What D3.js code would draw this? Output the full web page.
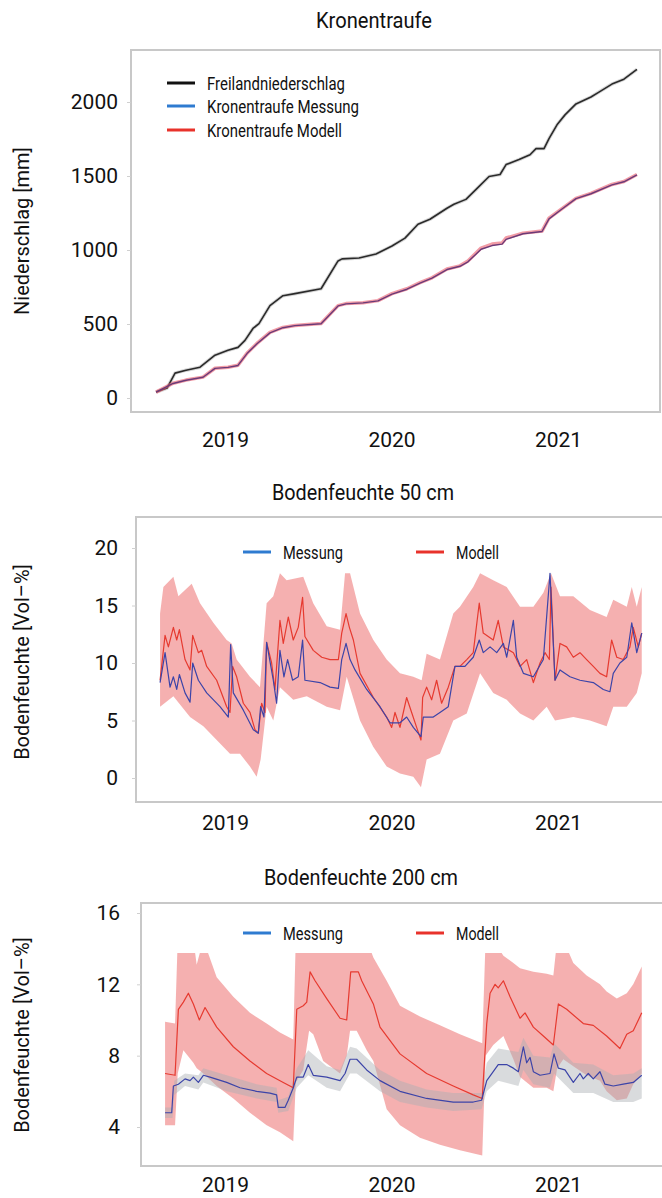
<!DOCTYPE html>
<html>
<head>
<meta charset="utf-8">
<script src="https://cdn.jsdelivr.net/npm/d3@7"></script>
<style>
  body { margin: 0; background: #fff; }
  svg { display: block; }
  .tick text { font-family: Roboto, "DejaVu Sans", sans-serif; font-size: 21px; fill: #111; }
  .title { font-family: Roboto, "DejaVu Sans", sans-serif; font-size: 22px; fill: #111; }
  .leg { font-family: Roboto, "DejaVu Sans", sans-serif; font-size: 18px; fill: #111; }
  .ytitle { font-family: Roboto, "DejaVu Sans", sans-serif; font-size: 20px; fill: #111; }
</style>
</head>
<body>
<svg width="662" height="1198"></svg>
<script>
// ---- ticks ----
const xTicks = [2019, 2020, 2021];
const yTicksKt = [0, 500, 1000, 1500, 2000];
const yTicks50 = [0, 5, 10, 15, 20];
const yTicks200 = [4, 8, 12, 16];

// ---- Kronentraufe (cumulative, mm), time as decimal year ----
const freiT = [2018.586, 2018.652, 2018.700, 2018.766, 2018.850, 2018.940, 2019.018, 2019.078, 2019.120, 2019.168,
  2019.204, 2019.270, 2019.348, 2019.420, 2019.577, 2019.679, 2019.703, 2019.805, 2019.907, 2020.003,
  2020.081, 2020.159, 2020.231, 2020.333, 2020.375, 2020.447, 2020.514, 2020.586, 2020.652, 2020.688,
  2020.766, 2020.832, 2020.868, 2020.916, 2020.946, 2020.994, 2021.042, 2021.108, 2021.198, 2021.246,
  2021.324, 2021.396, 2021.474];
const freiV = [40, 67, 168, 188, 208, 289, 322, 342, 389, 470,
  503, 624, 691, 705, 738, 926, 940, 946, 973, 1027,
  1080, 1174, 1208, 1282, 1309, 1342, 1416, 1497, 1510, 1577,
  1611, 1644, 1685, 1685, 1752, 1846, 1913, 1987, 2034, 2067,
  2121, 2154, 2221];

const ktT = [2018.586, 2018.688, 2018.766, 2018.868, 2018.940, 2019.018, 2019.078, 2019.132, 2019.192, 2019.270,
  2019.348, 2019.420, 2019.577, 2019.679, 2019.727, 2019.829, 2019.919, 2020.003, 2020.093, 2020.171,
  2020.243, 2020.333, 2020.411, 2020.459, 2020.538, 2020.604, 2020.664, 2020.688, 2020.790, 2020.904,
  2020.946, 2021.018, 2021.108, 2021.198, 2021.324, 2021.396, 2021.474];
const ktModell = [40, 100, 121, 141, 201, 208, 221, 302, 369, 443,
  477, 490, 503, 624, 638, 644, 658, 705, 738, 779,
  812, 872, 893, 926, 1013, 1040, 1047, 1081, 1114, 1128,
  1215, 1275, 1349, 1383, 1443, 1463, 1510];
const ktMessung = [40, 98, 120, 140, 200, 207, 220, 300, 366, 440,
  475, 489, 502, 622, 636, 643, 656, 702, 735, 776,
  810, 868, 890, 920, 1005, 1030, 1040, 1072, 1110, 1125,
  1210, 1272, 1347, 1380, 1440, 1461, 1508];

// ---- Bodenfeuchte 50 cm (Vol-%) ----
const m50T = [2018.610, 2018.640, 2018.660, 2018.690, 2018.710, 2018.726, 2018.760, 2018.790, 2018.806, 2018.840,
  2018.860, 2018.890, 2018.950, 2019.010, 2019.030, 2019.046, 2019.070, 2019.110, 2019.150, 2019.180,
  2019.200, 2019.220, 2019.240, 2019.250, 2019.280, 2019.300, 2019.330, 2019.350, 2019.380, 2019.410,
  2019.440, 2019.466, 2019.480, 2019.530, 2019.581, 2019.631, 2019.681, 2019.701, 2019.727, 2019.747,
  2019.771, 2019.811, 2019.891, 2019.971, 2020.001, 2020.021, 2020.051, 2020.091, 2020.121, 2020.151,
  2020.177, 2020.187, 2020.211, 2020.241, 2020.271, 2020.301, 2020.341, 2020.381, 2020.411, 2020.452,
  2020.491, 2020.527, 2020.551, 2020.581, 2020.611, 2020.641, 2020.672, 2020.732, 2020.772, 2020.812,
  2020.852, 2020.892, 2020.922, 2020.948, 2020.958, 2020.982, 2021.012, 2021.052, 2021.092, 2021.132,
  2021.172, 2021.212, 2021.252, 2021.292, 2021.322, 2021.353, 2021.392, 2021.432, 2021.452, 2021.482,
  2021.503];
const m50V = [8.5, 12.4, 11.4, 13.1, 12.0, 12.9, 10.3, 9.4, 12.4, 10.9,
  11.1, 9.7, 8.5, 6.2, 5.7, 9.7, 8.8, 6.5, 5.7, 4.2,
  3.9, 6.5, 5.7, 11.8, 10.0, 7.7, 13.7, 11.7, 14.0, 12.0,
  13.1, 15.7, 12.3, 11.1, 10.5, 10.3, 10.3, 12.6, 14.3, 13.1,
  12.0, 9.1, 7.0, 5.3, 4.4, 5.7, 4.4, 7.0, 5.7, 4.4,
  3.3, 7.0, 7.9, 6.8, 8.5, 6.5, 7.9, 9.7, 9.7, 10.3,
  10.9, 15.2, 12.6, 12.3, 12.0, 13.7, 11.4, 10.9, 9.7, 10.3,
  8.3, 10.0, 10.9, 10.3, 16.6, 8.5, 11.7, 11.4, 10.5, 10.9,
  10.3, 9.7, 9.1, 8.8, 12.0, 10.5, 10.3, 11.4, 13.1, 11.4,
  12.6];

const s50T = [2018.610, 2018.640, 2018.670, 2018.690, 2018.710, 2018.726, 2018.760, 2018.790, 2018.806, 2018.840,
  2018.890, 2018.970, 2019.020, 2019.034, 2019.050, 2019.110, 2019.170, 2019.200, 2019.214, 2019.234,
  2019.250, 2019.290, 2019.310, 2019.330, 2019.354, 2019.376, 2019.406, 2019.440, 2019.466, 2019.480,
  2019.571, 2019.631, 2019.681, 2019.701, 2019.727, 2019.751, 2019.781, 2019.851, 2019.931, 2019.991,
  2020.051, 2020.091, 2020.131, 2020.177, 2020.191, 2020.251, 2020.291, 2020.341, 2020.381, 2020.441,
  2020.491, 2020.527, 2020.551, 2020.592, 2020.632, 2020.672, 2020.692, 2020.732, 2020.752, 2020.792,
  2020.852, 2020.912, 2020.952, 2020.982, 2021.012, 2021.072, 2021.132, 2021.212, 2021.272, 2021.312,
  2021.332, 2021.372, 2021.413, 2021.443, 2021.473, 2021.503];
const s50V = [8.3, 10.9, 7.9, 8.8, 7.7, 9.0, 7.4, 6.6, 10.0, 8.5,
  7.4, 6.2, 5.3, 11.6, 7.4, 5.9, 4.2, 3.9, 6.2, 5.3,
  11.8, 8.5, 6.5, 11.1, 8.8, 10.3, 8.5, 8.8, 12.0, 8.5,
  8.3, 7.9, 7.8, 10.3, 11.7, 10.3, 9.4, 7.7, 6.2, 4.8,
  4.8, 5.3, 4.4, 3.6, 5.3, 5.3, 5.7, 6.2, 9.7, 9.7,
  10.5, 12.0, 10.9, 11.4, 10.9, 11.7, 10.5, 13.7, 10.5, 9.1,
  8.8, 10.3, 17.8, 8.5, 9.4, 8.8, 8.5, 8.3, 7.7, 7.5,
  9.1, 10.0, 10.5, 13.5, 10.9, 12.6];

const up50T = [2018.610, 2018.630, 2018.690, 2018.720, 2018.800, 2018.850, 2018.930, 2019.010, 2019.040, 2019.070,
  2019.150, 2019.210, 2019.250, 2019.290, 2019.330, 2019.370, 2019.470, 2019.530, 2019.611, 2019.691,
  2019.721, 2019.751, 2019.811, 2019.891, 2019.971, 2020.051, 2020.131, 2020.181, 2020.211, 2020.291,
  2020.371, 2020.411, 2020.491, 2020.532, 2020.611, 2020.692, 2020.772, 2020.852, 2020.912, 2020.958,
  2021.012, 2021.092, 2021.192, 2021.292, 2021.332, 2021.413, 2021.443, 2021.473, 2021.503];
const up50V = [14.3, 16.6, 17.5, 15.8, 16.9, 15.2, 13.5, 12.0, 11.7, 10.3,
  8.8, 7.9, 15.2, 15.8, 17.8, 17.2, 17.5, 15.2, 13.2, 12.9,
  17.8, 17.8, 14.3, 12.0, 10.3, 9.1, 8.8, 8.5, 10.8, 10.3,
  14.3, 14.9, 16.6, 17.8, 17.2, 16.6, 14.9, 14.9, 16.1, 17.8,
  15.8, 15.8, 14.6, 14.0, 15.5, 14.9, 16.6, 14.9, 16.6];
const lo50T = [2018.610, 2018.690, 2018.790, 2018.870, 2018.950, 2019.030, 2019.090, 2019.150, 2019.190, 2019.214,
  2019.250, 2019.290, 2019.330, 2019.410, 2019.491, 2019.611, 2019.691, 2019.731, 2019.811, 2019.891,
  2019.971, 2020.051, 2020.131, 2020.177, 2020.211, 2020.291, 2020.371, 2020.452, 2020.532, 2020.611,
  2020.692, 2020.772, 2020.852, 2020.932, 2020.982, 2021.092, 2021.192, 2021.292, 2021.332, 2021.413,
  2021.473, 2021.503];
const lo50V = [6.2, 7.1, 5.3, 4.5, 3.3, 2.1, 2.1, 1.0, 0.1, 1.6,
  6.2, 5.0, 7.9, 6.8, 7.1, 6.2, 5.9, 8.8, 5.0, 2.7,
  1.0, 0.4, 0.1, -0.8, 1.6, 2.1, 5.0, 5.6, 9.1, 7.4,
  6.8, 5.6, 5.0, 6.2, 5.0, 5.3, 5.0, 4.5, 6.2, 6.2,
  7.4, 9.1];

// ---- Bodenfeuchte 200 cm (Vol-%) ----
const m200T = [2018.640, 2018.700, 2018.720, 2018.750, 2018.780, 2018.810, 2018.846, 2018.880, 2018.950, 2019.050,
  2019.150, 2019.250, 2019.350, 2019.410, 2019.431, 2019.470, 2019.491, 2019.511, 2019.541, 2019.611,
  2019.691, 2019.731, 2019.755, 2019.801, 2019.821, 2019.891, 2019.931, 2020.051, 2020.211, 2020.371,
  2020.491, 2020.545, 2020.572, 2020.592, 2020.622, 2020.641, 2020.672, 2020.712, 2020.772, 2020.802,
  2020.852, 2020.912, 2020.972, 2021.002, 2021.052, 2021.152, 2021.212, 2021.292, 2021.372, 2021.413,
  2021.452, 2021.503];
const m200V = [7.0, 6.9, 10.6, 11.0, 11.5, 10.9, 10.0, 10.7, 9.6, 8.5,
  7.7, 7.0, 6.5, 6.2, 10.6, 10.8, 11.0, 12.7, 12.2, 11.2,
  10.1, 10.0, 12.7, 12.7, 12.2, 10.9, 9.6, 8.1, 7.0, 6.3,
  5.8, 5.6, 9.8, 11.5, 12.0, 11.8, 12.2, 11.3, 10.1, 10.4,
  9.6, 9.1, 8.6, 10.9, 10.6, 9.8, 9.7, 9.1, 8.4, 9.2,
  9.4, 10.4];

const s200T = [2018.640, 2018.680, 2018.690, 2018.720, 2018.760, 2018.790, 2018.810, 2018.840, 2018.870, 2018.910,
  2019.010, 2019.090, 2019.190, 2019.270, 2019.310, 2019.320, 2019.360, 2019.380, 2019.410, 2019.431,
  2019.470, 2019.500, 2019.530, 2019.611, 2019.691, 2019.721, 2019.751, 2019.791, 2019.851, 2019.931,
  2020.051, 2020.211, 2020.371, 2020.491, 2020.541, 2020.572, 2020.611, 2020.641, 2020.692, 2020.732,
  2020.762, 2020.792, 2020.812, 2020.832, 2020.852, 2020.892, 2020.952, 2020.976, 2021.002, 2021.042,
  2021.092, 2021.132, 2021.152, 2021.182, 2021.212, 2021.252, 2021.282, 2021.332, 2021.392, 2021.452,
  2021.503];
const s200V = [4.8, 4.8, 6.3, 6.4, 6.7, 6.6, 6.8, 6.5, 6.9, 6.8,
  6.5, 6.2, 6.0, 5.9, 5.8, 5.1, 5.1, 5.5, 6.2, 6.8,
  6.8, 7.5, 6.9, 6.8, 6.6, 7.0, 7.8, 7.8, 7.2, 6.6,
  6.0, 5.6, 5.4, 5.4, 5.5, 6.6, 7.1, 7.5, 7.5, 7.3,
  7.1, 8.5, 7.6, 7.9, 7.1, 6.9, 7.0, 8.1, 7.3, 7.2,
  6.5, 7.0, 6.7, 7.0, 6.7, 7.1, 6.4, 6.3, 6.4, 6.5,
  6.9];

const band200T = [2018.640, 2018.700, 2018.716, 2018.750, 2018.810, 2018.830, 2018.870, 2018.950, 2019.050, 2019.150,
  2019.250, 2019.330, 2019.410, 2019.425, 2019.470, 2019.505, 2019.530, 2019.590, 2019.691, 2019.731,
  2019.751, 2019.791, 2019.851, 2019.891, 2019.971, 2020.051, 2020.171, 2020.291, 2020.411, 2020.545,
  2020.565, 2020.611, 2020.672, 2020.732, 2020.772, 2020.852, 2020.932, 2020.972, 2020.995, 2021.032,
  2021.092, 2021.172, 2021.252, 2021.292, 2021.353, 2021.413, 2021.452, 2021.503];
const up200V = [9.9, 9.8, 14.5, 14.5, 14.5, 13.1, 14.5, 12.4, 11.3, 10.4,
  9.8, 9.3, 8.9, 14.5, 14.5, 14.5, 14.5, 14.5, 14.5, 14.5,
  14.5, 14.5, 14.5, 13.5, 12.2, 10.8, 10.2, 9.7, 9.2, 8.7,
  14.5, 14.5, 13.6, 13.2, 12.9, 12.7, 12.6, 12.5, 14.5, 14.5,
  13.2, 12.5, 12.0, 11.6, 11.2, 11.5, 12.0, 13.0];
const lo200V = [4.1, 4.1, 7.0, 8.3, 7.6, 7.3, 7.0, 6.3, 5.6, 4.8,
  4.1, 3.7, 3.2, 6.5, 7.2, 9.4, 9.2, 7.7, 7.0, 8.0,
  9.4, 9.4, 8.3, 7.7, 5.0, 4.1, 3.4, 3.0, 2.7, 2.4,
  8.0, 8.6, 9.1, 7.8, 6.8, 6.2, 6.2, 6.0, 7.3, 7.8,
  7.4, 6.9, 6.6, 6.0, 5.5, 5.6, 6.4, 7.0];

const gray200T = [2018.640, 2018.685, 2018.695, 2018.760, 2018.840, 2018.870, 2019.010, 2019.190, 2019.310, 2019.320,
  2019.380, 2019.431, 2019.500, 2019.611, 2019.691, 2019.751, 2019.791, 2019.931, 2020.051, 2020.211,
  2020.371, 2020.541, 2020.572, 2020.641, 2020.762, 2020.792, 2020.852, 2020.952, 2020.976, 2021.092,
  2021.212, 2021.332, 2021.452, 2021.503];
const grayUp200 = [5.1, 5.1, 6.6, 7.0, 6.9, 7.3, 6.9, 6.4, 6.2, 5.5,
  5.7, 7.3, 8.3, 7.4, 7.2, 8.5, 8.4, 7.2, 6.6, 6.1,
  5.9, 5.9, 7.6, 8.4, 8.2, 9.0, 8.0, 7.9, 8.7, 7.6,
  7.5, 6.9, 7.0, 7.3];
const grayLo200 = [4.5, 4.5, 5.8, 6.3, 6.1, 6.5, 6.0, 5.6, 5.4, 4.8,
  4.9, 6.2, 6.9, 6.2, 6.0, 7.0, 7.0, 6.0, 5.4, 5.1,
  4.9, 5.0, 6.0, 6.6, 6.3, 7.2, 6.4, 6.2, 7.0, 5.9,
  5.9, 5.4, 5.4, 5.6];

// ---- colours ----
const cRed = '#e8322b', cBlue = '#2f7bd0', cBlack = '#111';
const cBand = '#e8504f', cGray = '#aab0b4';

const svg = d3.select('svg');
const defs = svg.append('defs');

const x = d3.scaleLinear().domain([2019, 2021]).range([225, 558]);
const zip = (ts, vs) => ts.map((t, i) => [t, vs[i]]);

// squeeze text to the narrow width of the original's condensed face
const squeeze = (sel, w) => sel.attr('textLength', w).attr('lengthAdjust', 'spacingAndGlyphs');

const drawPanel = (p, idx) => {
  const y = d3.scaleLinear().domain(p.yDom).range(p.yRng);
  const b = p.box;
  const line = d3.line().x(d => x(d[0])).y(d => y(d[1]));

  defs.append('clipPath').attr('id', 'clip' + idx)
    .append('rect').attr('x', b.l).attr('y', b.t).attr('width', b.r - b.l).attr('height', b.b - b.t);

  const g = svg.append('g').attr('clip-path', `url(#clip${idx})`);

  (p.bands || []).forEach(bd => {
    let pts = bd.up.concat(bd.lo.slice().reverse());
    g.append('path')
      .attr('d', line(pts) + 'Z')
      .attr('fill', bd.color)
      .attr('fill-opacity', bd.opacity);
  });

  p.lines.forEach(ln => {
    g.append('path')
      .datum(ln.data)
      .attr('d', line)
      .attr('fill', 'none')
      .attr('stroke', ln.color)
      .attr('stroke-width', ln.width)
      .attr('stroke-opacity', ln.opacity || 1)
      .attr('stroke-linejoin', 'round');
  });

  // white legend strip on top of the plot
  if (p.legendCut) {
    svg.append('rect').attr('x', b.l + 1).attr('y', b.t + 1)
      .attr('width', b.r - b.l - 2).attr('height', p.legendCut - b.t - 1)
      .attr('fill', '#fff');
  }

  svg.append('rect')
    .attr('x', b.l).attr('y', b.t).attr('width', b.r - b.l).attr('height', b.b - b.t)
    .attr('fill', 'none').attr('stroke', '#c8c8c8').attr('stroke-width', 2);

  const gx = svg.append('g').attr('transform', `translate(0,${b.b})`)
    .call(d3.axisBottom(x).tickValues(xTicks).tickFormat(d3.format('d')).tickSize(0).tickPadding(p.xPad));
  gx.select('.domain').remove();

  const gy = svg.append('g').attr('transform', `translate(${b.l},0)`)
    .call(d3.axisLeft(y).tickValues(p.yTicks).tickFormat(d3.format('d')).tickSize(4).tickPadding(p.yPad));
  gy.select('.domain').remove();
  gy.selectAll('.tick line').attr('stroke', '#d0d0d0');

  svg.append('text').attr('class', 'title')
    .attr('x', p.titleX).attr('y', p.titleY).attr('text-anchor', 'middle').text(p.title)
    .call(squeeze, p.titleW);

  svg.append('text').attr('class', 'ytitle')
    .attr('transform', `translate(${p.yTitleX},${p.yTitleY}) rotate(-90)`)
    .attr('text-anchor', 'middle').attr('dy', '0.35em').text(p.yTitle);

  p.legend.forEach(lg => {
    svg.append('line').attr('x1', lg.x).attr('x2', lg.x + 28).attr('y1', lg.y).attr('y2', lg.y)
      .attr('stroke', lg.color).attr('stroke-width', 3);
    svg.append('text').attr('class', 'leg').attr('x', lg.x + 40).attr('y', lg.y + 6.5).text(lg.label)
      .call(squeeze, lg.w);
  });
};

const panels = [
  {
    title: 'Kronentraufe', titleX: 374, titleY: 28, titleW: 116,
    box: { l: 131, t: 50, r: 660, b: 412 },
    yDom: [0, 2000], yRng: [398, 102], yTicks: yTicksKt, yPad: 9, xPad: 20,
    yTitle: 'Niederschlag [mm]', yTitleX: 22, yTitleY: 231,
    lines: [
      { data: zip(freiT, freiV), color: '#bbb', width: 3.5, opacity: 0.6 },
      { data: zip(freiT, freiV), color: '#2a2a2a', width: 1.6 },
      { data: zip(ktT, ktModell), color: '#ea5a6a', width: 3.5, opacity: 0.6 },
      { data: zip(ktT, ktMessung), color: '#6a3a78', width: 1.4 },
    ],
    legend: [
      { x: 167, y: 83, color: cBlack, label: 'Freilandniederschlag', w: 138 },
      { x: 167, y: 106, color: cBlue, label: 'Kronentraufe Messung', w: 152 },
      { x: 167, y: 130, color: cRed, label: 'Kronentraufe Modell', w: 135 },
    ],
  },
  {
    title: 'Bodenfeuchte 50 cm', titleX: 363, titleY: 500, titleW: 182,
    box: { l: 136, t: 517, r: 663, b: 802 },
    yDom: [0, 20], yRng: [778, 548], yTicks: yTicks50, yPad: 14, xPad: 13,
    yTitle: 'Bodenfeuchte [Vol–%]', yTitleX: 22, yTitleY: 662,
    legendCut: 572,
    bands: [
      { up: zip(up50T, up50V), lo: zip(lo50T, lo50V), color: cBand, opacity: 0.45 },
    ],
    lines: [
      { data: zip(m50T, m50V), color: '#e63a30', width: 1.2 },
      { data: zip(s50T, s50V), color: '#3c44a8', width: 1.2 },
    ],
    legend: [
      { x: 243, y: 552, color: cBlue, label: 'Messung', w: 60 },
      { x: 416, y: 552, color: cRed, label: 'Modell', w: 43 },
    ],
  },
  {
    title: 'Bodenfeuchte 200 cm', titleX: 361, titleY: 885, titleW: 194,
    box: { l: 141, t: 903, r: 663, b: 1166 },
    yDom: [4, 16], yRng: [1127, 913], yTicks: yTicks200, yPad: 17, xPad: 11,
    yTitle: 'Bodenfeuchte [Vol–%]', yTitleX: 22, yTitleY: 1035,
    legendCut: 953,
    bands: [
      { up: zip(band200T, up200V), lo: zip(band200T, lo200V), color: cBand, opacity: 0.45 },
      { up: zip(gray200T, grayUp200), lo: zip(gray200T, grayLo200), color: cGray, opacity: 0.45 },
    ],
    lines: [
      { data: zip(m200T, m200V), color: '#e63a30', width: 1.2 },
      { data: zip(s200T, s200V), color: '#3c44a8', width: 1.2 },
    ],
    legend: [
      { x: 243, y: 933, color: cBlue, label: 'Messung', w: 60 },
      { x: 416, y: 933, color: cRed, label: 'Modell', w: 43 },
    ],
  },
];

panels.forEach(drawPanel);
</script>
</body>
</html>
